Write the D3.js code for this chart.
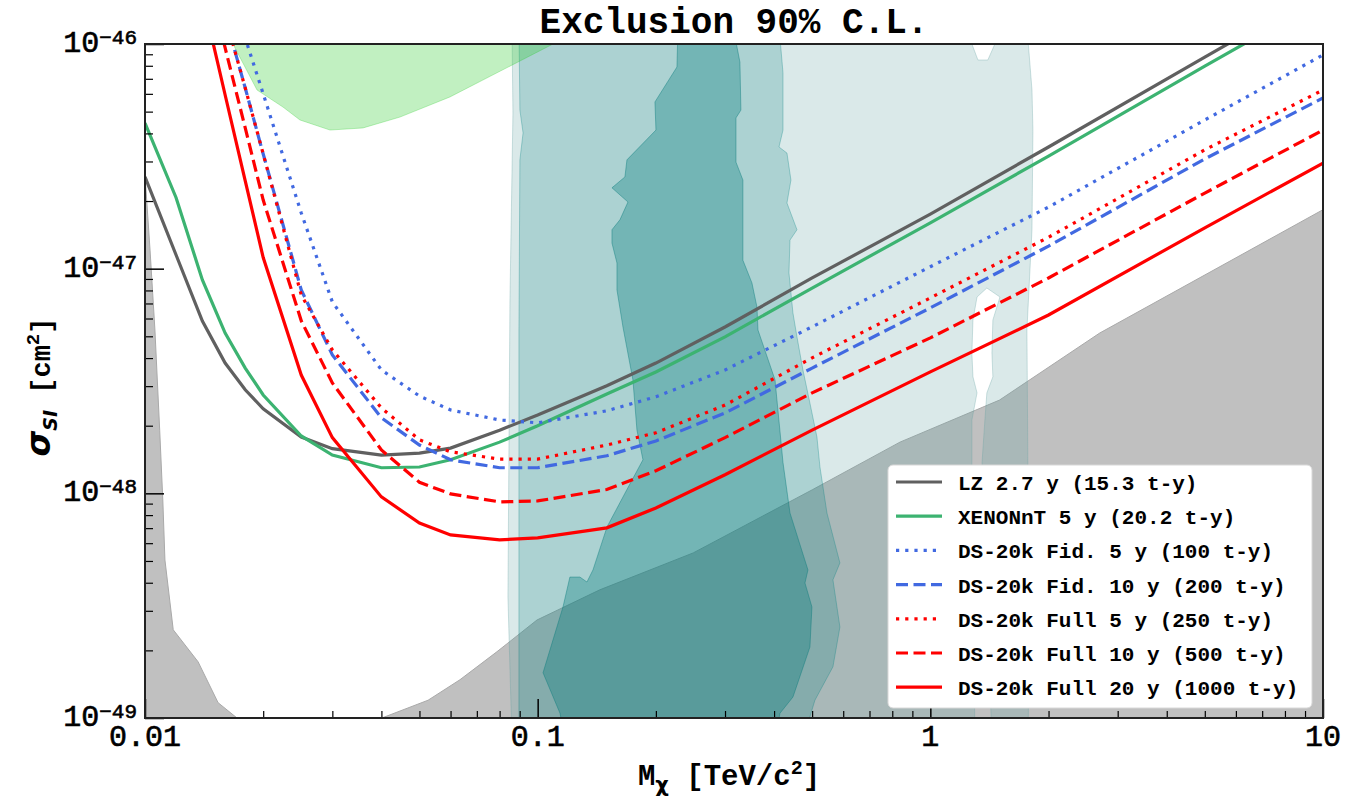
<!DOCTYPE html>
<html>
<head>
<meta charset="utf-8">
<script src="https://cdn.jsdelivr.net/npm/d3@7"></script>
<style>
  body { margin: 0; background: #fff; }
  text { fill: #000; }
</style>
</head>
<body>
<svg id="svg"></svg>
<script>
// ---- data ----
var masses = [0.01, 0.012, 0.014, 0.016, 0.018, 0.02, 0.025, 0.03, 0.04, 0.05, 0.06, 0.08, 0.1, 0.15, 0.2, 0.3, 0.5, 1, 2, 5, 10];

var lzSigma     = [2.56e-47, 1.15e-47, 5.85e-48, 3.80e-48, 2.89e-48, 2.38e-48, 1.78e-48, 1.58e-48, 1.48e-48, 1.51e-48, 1.59e-48, 1.91e-48, 2.23e-48, 3.01e-48, 3.80e-48, 5.50e-48, 9.09e-48, 1.75e-47, 3.48e-47, 8.75e-47, 1.74e-46];
var xenonSigma  = [4.45e-47, 2.07e-47, 8.91e-48, 5.17e-48, 3.61e-48, 2.74e-48, 1.80e-48, 1.48e-48, 1.30e-48, 1.31e-48, 1.41e-48, 1.69e-48, 2.00e-48, 2.77e-48, 3.47e-48, 4.97e-48, 8.20e-48, 1.60e-47, 3.17e-47, 7.98e-47, 1.58e-46];
var fid5Sigma   = [null, null, null, 2.03e-46, 1.06e-46, 6.0e-47, 1.77e-47, 7.11e-48, 3.54e-48, 2.71e-48, 2.35e-48, 2.12e-48, 2.06e-48, 2.33e-48, 2.69e-48, 3.54e-48, 5.51e-48, 1.02e-47, 1.88e-47, 4.59e-47, 8.94e-47];
var fid10Sigma  = [null, null, null, 1.33e-46, 6.37e-47, 3.24e-47, 8.04e-48, 4.13e-48, 2.17e-48, 1.64e-48, 1.41e-48, 1.30e-48, 1.30e-48, 1.47e-48, 1.71e-48, 2.28e-48, 3.61e-48, 6.69e-48, 1.26e-47, 3.08e-47, 5.75e-47];
var full5Sigma  = [null, null, null, 1.33e-46, 6.37e-47, 3.24e-47, 7.64e-48, 4.35e-48, 2.40e-48, 1.73e-48, 1.53e-48, 1.42e-48, 1.42e-48, 1.64e-48, 1.86e-48, 2.47e-48, 4.01e-48, 7.41e-48, 1.38e-47, 3.38e-47, 6.24e-47];
var full10Sigma = [null, null, 2.46e-46, 9.6e-47, 4.23e-47, 2.02e-47, 5.86e-48, 3.10e-48, 1.56e-48, 1.12e-48, 9.94e-49, 9.16e-49, 9.25e-49, 1.04e-48, 1.26e-48, 1.77e-48, 2.80e-48, 4.92e-48, 9.09e-48, 2.17e-47, 4.14e-47];
var full20Sigma = [null, null, 1.62e-46, 5.93e-47, 2.46e-47, 1.12e-47, 3.36e-48, 1.77e-48, 9.64e-49, 7.38e-49, 6.53e-49, 6.21e-49, 6.33e-49, 7.02e-49, 8.61e-49, 1.21e-48, 1.91e-48, 3.47e-48, 6.22e-48, 1.52e-47, 2.95e-47];

var legendLabels = [
  "LZ 2.7 y (15.3 t-y)",
  "XENONnT 5 y (20.2 t-y)",
  "DS-20k Fid. 5 y (100 t-y)",
  "DS-20k Fid. 10 y (200 t-y)",
  "DS-20k Full 5 y (250 t-y)",
  "DS-20k Full 10 y (500 t-y)",
  "DS-20k Full 20 y (1000 t-y)"
];

// neutrino fog upper edge
var fogMass  = [0.01, 0.0103, 0.0106, 0.0109, 0.0111, 0.01124, 0.0118, 0.01365, 0.01535, 0.01715, 0.0196, 0.0353, 0.0401, 0.0526, 0.0634, 0.0787, 0.0996, 0.144, 0.249, 0.502, 0.837, 1.50, 2.70, 10];
var fogSigma = [2.61e-47, 1.21e-47, 5.33e-48, 1.91e-48, 9.35e-49, 5.05e-49, 2.47e-49, 1.78e-49, 1.17e-49, 1.0e-49, 5e-50, 5e-50, 1.0e-49, 1.20e-49, 1.48e-49, 1.97e-49, 2.73e-49, 3.72e-49, 5.43e-49, 1.04e-48, 1.69e-48, 2.60e-48, 5.17e-48, 1.83e-47];

// model contours [mass, sigma]
var contourOuter = [[0.0860,1.2e-46],[0.0865,4.93e-47],[0.0850,7.26e-48],[0.0840,3.46e-49],[0.0860,8e-50],
  [1.299,8e-50],[1.276,1.37e-48],[1.276,2.12e-48],[1.315,2.80e-48],[1.284,3.30e-48],[1.276,4.21e-48],[1.284,5.91e-48],
  [1.315,7.48e-48],[1.393,8.20e-48],[1.504,7.48e-48],[1.443,5.91e-48],[1.435,4.21e-48],[1.443,3.30e-48],[1.393,2.80e-48],
  [1.377,2.12e-48],[1.354,1.37e-48],[1.435,8e-50],[1.773,8e-50],[1.794,3.35e-49],[1.773,1.15e-48],[1.762,5.33e-48],
  [1.815,1.49e-47],[1.825,4.14e-47],[1.815,6.24e-47],[1.762,1.2e-46],[1.460,1.2e-46],[1.460,1.0e-46],[1.401,8.49e-47],
  [1.322,8.49e-47],[1.276,1.0e-46],[1.276,1.2e-46]];
var contourMid = [[0.0896,1.2e-46],[0.0901,5.08e-47],[0.0918,4.02e-47],[0.0901,3.05e-47],[0.0896,5.33e-48],[0.0896,8e-50],
  [0.4738,8e-50],[0.5083,1.20e-49],[0.5649,1.69e-49],[0.5885,2.54e-49],[0.5649,4.12e-49],[0.5885,4.90e-49],[0.5454,8.18e-49],
  [0.5235,1.31e-48],[0.5143,1.78e-48],[0.4936,2.52e-48],[0.4738,3.54e-48],[0.4575,4.97e-48],[0.4468,6.35e-48],[0.4365,9.57e-48],
  [0.4391,1.34e-47],[0.4575,1.49e-47],[0.4314,1.96e-47],[0.4416,2.48e-47],[0.4314,3.27e-47],[0.4117,3.48e-47],[0.4215,4.14e-47],
  [0.4215,7.43e-47],[0.4117,1.2e-46]];
var contourInner = [[0.2277,1.2e-46],[0.2263,7.90e-47],[0.1989,5.52e-47],[0.2001,4.14e-47],[0.1688,3.05e-47],[0.1668,2.56e-47],
  [0.1546,2.29e-47],[0.1698,1.98e-47],[0.1620,1.65e-47],[0.1546,1.49e-47],[0.1546,1.30e-47],[0.1592,1.06e-47],[0.1592,8.04e-48],
  [0.1649,5.50e-48],[0.1748,3.20e-48],[0.1790,1.91e-48],[0.1854,1.41e-48],[0.1688,1.04e-48],[0.1502,7.09e-49],[0.1383,4.56e-49],
  [0.1335,4.03e-49],[0.1281,4.24e-49],[0.1208,4.24e-49],[0.1160,3.12e-49],[0.1032,1.59e-49],[0.1140,1.05e-49],[0.1174,8e-50],
  [0.4022,8e-50],[0.4141,1.05e-49],[0.4468,1.24e-49],[0.4936,2.07e-49],[0.4994,3.12e-49],[0.4794,3.99e-49],[0.4879,4.56e-49],
  [0.4391,8.18e-49],[0.4215,1.37e-48],[0.4022,3.20e-48],[0.3640,5.33e-48],[0.3618,6.75e-48],[0.3513,8.64e-48],[0.3332,1.09e-47],
  [0.3332,2.48e-47],[0.3199,2.98e-47],[0.3199,4.69e-47],[0.3293,5.08e-47],[0.3274,8.31e-47],[0.3143,1.2e-46]];
// excluded region (green) at top left
var excludedRegion = [[0.0165,1.2e-46],[0.01675,1.0e-46],[0.01929,6.24e-47],[0.02246,5.24e-47],[0.02481,4.59e-47],[0.02959,4.14e-47],
  [0.03591,4.23e-47],[0.04460,4.73e-47],[0.05978,5.81e-47],[0.1094,1.0e-46],[0.115,1.2e-46]];

var xMajor = [0.01, 0.1, 1, 10];
var xTickLabels = ["0.01", "0.1", "1", "10"];
var yMajor = [1e-49, 1e-48, 1e-47, 1e-46];
var yExponents = ["\u221249", "\u221248", "\u221247", "\u221246"];

// ---- layout ----
var w = 1353, h = 796;
var pLeft = 145, pRight = 1323, pTop = 44, pBottom = 718;

var svg = d3.select("#svg").attr("width", w).attr("height", h);

var x = d3.scaleLog().domain([0.01, 10]).range([pLeft, pRight]);
var y = d3.scaleLog().domain([1e-49, 1e-46]).range([pBottom, pTop]);

svg.append("defs").append("clipPath").attr("id", "plotclip")
  .append("rect").attr("x", pLeft).attr("y", pTop).attr("width", pRight - pLeft).attr("height", pBottom - pTop);

var plot = svg.append("g").attr("clip-path", "url(#plotclip)");

var poly = d3.line().x(function(d){ return x(d[0]); }).y(function(d){ return y(d[1]); });

// neutrino fog
var fogPts = fogMass.map(function(m, i){ return [m, fogSigma[i]]; });
fogPts.push([10, 8e-50]); fogPts.push([0.01, 8e-50]);
plot.append("path").attr("d", poly(fogPts) + "Z")
  .attr("fill", "#c0c0c0").attr("stroke", "#a9a9a9").attr("stroke-width", 1);

// contours
plot.append("path").attr("d", poly(contourOuter) + "Z")
  .attr("fill", "#5f9ea0").attr("fill-opacity", 0.23)
  .attr("stroke", "#5f9ea0").attr("stroke-opacity", 0.3).attr("stroke-width", 1);
plot.append("path").attr("d", poly(contourMid) + "Z")
  .attr("fill", "#008080").attr("fill-opacity", 0.21)
  .attr("stroke", "#008080").attr("stroke-opacity", 0.3).attr("stroke-width", 1);
plot.append("path").attr("d", poly(contourInner) + "Z")
  .attr("fill", "#007878").attr("fill-opacity", 0.33)
  .attr("stroke", "#007878").attr("stroke-opacity", 0.4).attr("stroke-width", 1);

plot.append("path").attr("d", poly(excludedRegion) + "Z")
  .attr("fill", "#32cd32").attr("fill-opacity", 0.3)
  .attr("stroke", "#32cd32").attr("stroke-opacity", 0.3).attr("stroke-width", 1);

// limit curves
var series = [
  {vals: lzSigma,     color: "#606060", dash: null},
  {vals: xenonSigma,  color: "#3cb371", dash: null},
  {vals: fid5Sigma,   color: "#4169e1", dash: "3.2,6"},
  {vals: fid10Sigma,  color: "#4169e1", dash: "12,5.5"},
  {vals: full5Sigma,  color: "#ff0000", dash: "3.2,6"},
  {vals: full10Sigma, color: "#ff0000", dash: "12,5.5"},
  {vals: full20Sigma, color: "#ff0000", dash: null}
];

var line = d3.line()
  .defined(function(d){ return d[1] != null; })
  .x(function(d){ return x(d[0]); })
  .y(function(d){ return y(d[1]); });

series.forEach(function(s){
  plot.append("path")
    .datum(masses.map(function(m, i){ return [m, s.vals[i]]; }))
    .attr("d", line)
    .attr("fill", "none")
    .attr("stroke", s.color)
    .attr("stroke-width", 3.2)
    .attr("stroke-dasharray", s.dash);
});

// ---- axes ----
function minorTicks(lo, hi){
  var t = [];
  for (var e = lo; e < hi; e++) for (var k = 2; k <= 9; k++) t.push(+(k * Math.pow(10, e)).toPrecision(3));
  return t;
}
var xMinor = minorTicks(-2, 1);
var yMinor = minorTicks(-49, -46);

svg.append("g").attr("transform", "translate(0," + pBottom + ")")
  .call(d3.axisBottom(x).tickValues(xMajor).tickSize(-19).tickFormat(""))
  .call(function(g){ g.select(".domain").remove(); g.selectAll("line").attr("stroke-width", 1.5); });
svg.append("g").attr("transform", "translate(0," + pBottom + ")")
  .call(d3.axisBottom(x).tickValues(xMinor).tickSize(-7).tickFormat(""))
  .call(function(g){ g.select(".domain").remove(); g.selectAll("line").attr("stroke-width", 1.2); });
svg.append("g").attr("transform", "translate(" + pLeft + ",0)")
  .call(d3.axisLeft(y).tickValues(yMajor).tickSize(-19).tickFormat(""))
  .call(function(g){ g.select(".domain").remove(); g.selectAll("line").attr("stroke-width", 1.5); });
svg.append("g").attr("transform", "translate(" + pLeft + ",0)")
  .call(d3.axisLeft(y).tickValues(yMinor).tickSize(-8).tickFormat(""))
  .call(function(g){ g.select(".domain").remove(); g.selectAll("line").attr("stroke-width", 1.2); });

// frame
svg.append("rect").attr("x", pLeft).attr("y", pTop).attr("width", pRight - pLeft).attr("height", pBottom - pTop)
  .attr("fill", "none").attr("stroke", "#222").attr("stroke-width", 2);

// tick labels
var tickFont = "'Liberation Mono', 'Courier New', monospace";
svg.selectAll(".xlab").data(xMajor).enter().append("text")
  .attr("x", function(d){ return x(d); })
  .attr("y", 746)
  .attr("text-anchor", "middle")
  .style("font-family", tickFont).style("font-size", "30px")
  .style("stroke", "#000").style("stroke-width", 0.6)
  .text(function(d, i){ return xTickLabels[i]; });

var ylab = svg.selectAll(".ylab").data(yMajor).enter().append("text")
  .attr("x", pLeft - 8)
  .attr("y", function(d){ return y(d) + 8; })
  .attr("text-anchor", "end")
  .style("font-family", tickFont).style("font-size", "30px")
  .style("stroke", "#000").style("stroke-width", 0.6);
ylab.append("tspan").text("10");
ylab.append("tspan").attr("dy", -8).style("font-size", "21px").text(function(d, i){ return yExponents[i]; });

// title
svg.append("text").attr("x", (pLeft + pRight) / 2).attr("y", 33).attr("text-anchor", "middle")
  .style("font-family", tickFont).style("font-weight", "bold").style("font-size", "36px")
  .text("Exclusion 90% C.L.");

// x label
var xl = svg.append("text").attr("x", 729).attr("y", 785).attr("text-anchor", "middle")
  .style("font-family", tickFont).style("font-weight", "bold").style("font-size", "29px");
xl.append("tspan").text("M");
xl.append("tspan").attr("dy", 7).style("font-family", "'DejaVu Sans'").style("font-size", "21px").text("\u03c7");
xl.append("tspan").attr("dy", -7).text(" [TeV/c");
xl.append("tspan").attr("dy", -11).style("font-size", "20px").text("2");
xl.append("tspan").attr("dy", 11).text("]");

// y label
var yl = svg.append("text").attr("transform", "translate(50,387) rotate(-90)").attr("text-anchor", "middle")
  .style("font-family", tickFont).style("font-weight", "bold").style("font-size", "27px");
yl.append("tspan").style("font-family", "'DejaVu Sans'").style("font-style", "italic").style("font-size", "33px").text("\u03c3");
yl.append("tspan").attr("dy", 7).style("font-family", "'DejaVu Sans'").style("font-style", "italic").style("font-size", "19px").text("SI");
yl.append("tspan").attr("dy", -7).text(" [cm");
yl.append("tspan").attr("dy", -11).style("font-size", "19px").text("2");
yl.append("tspan").attr("dy", 11).text("]");

// ---- legend ----
var lg = svg.append("g");
lg.append("rect").attr("x", 888).attr("y", 465).attr("width", 424).attr("height", 243).attr("rx", 5)
  .attr("fill", "#fff").attr("stroke", "#d8d8d8").attr("stroke-width", 1);
legendLabels.forEach(function(lab, i){
  var yy = 482 + i * 34.2;
  lg.append("line").attr("x1", 896).attr("x2", 942).attr("y1", yy).attr("y2", yy)
    .attr("stroke", series[i].color).attr("stroke-width", 3.2).attr("stroke-dasharray", series[i].dash);
  lg.append("text").attr("x", 958).attr("y", yy + 8)
    .style("font-family", tickFont).style("font-weight", "bold").style("font-size", "21px")
    .text(lab);
});
</script>
</body>
</html>
